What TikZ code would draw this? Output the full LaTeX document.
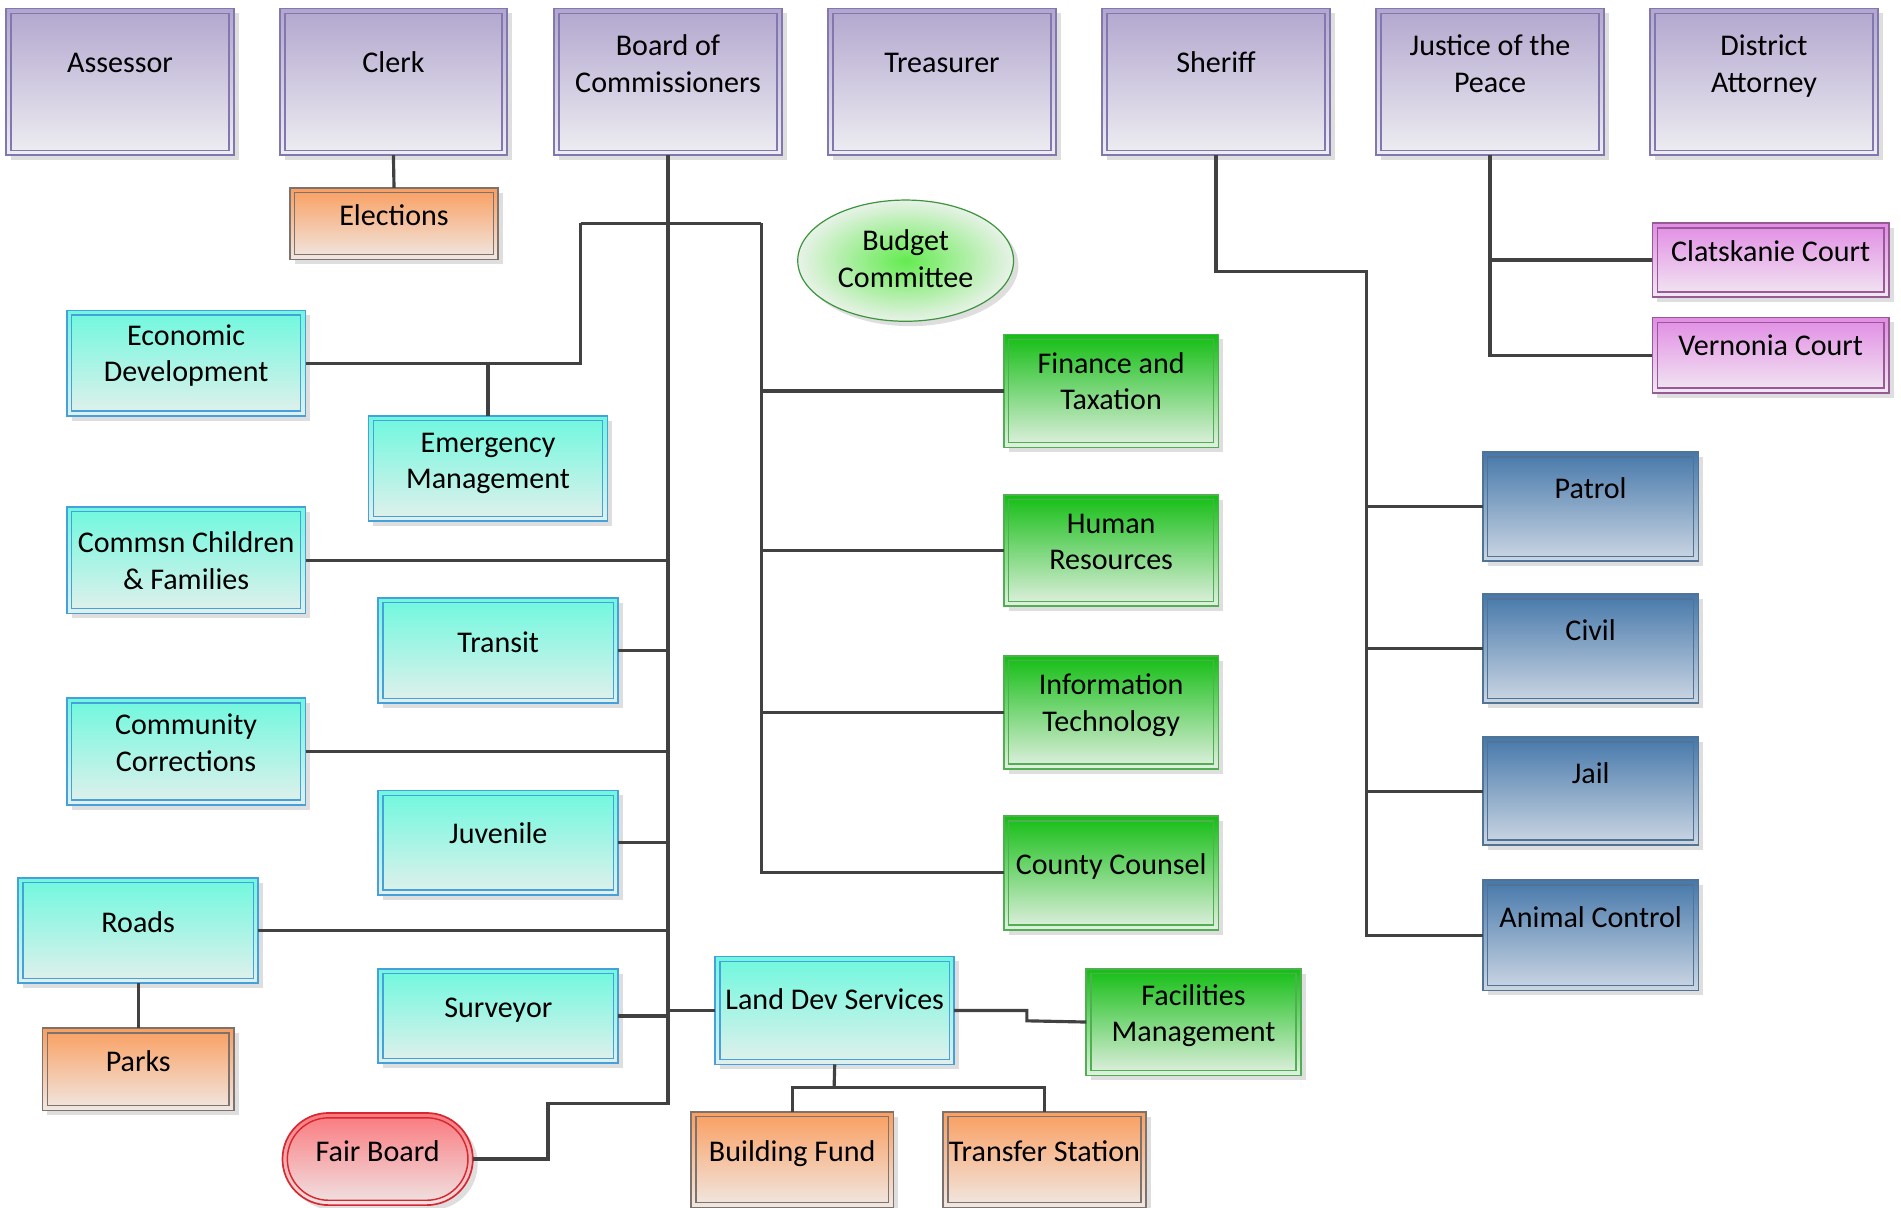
\documentclass[tikz,border=0pt]{standalone}
\usepackage{fontspec}
\setmainfont{Carlito}
\usetikzlibrary{shadows,calc,shapes.geometric}
\definecolor{lncol}{RGB}{65,65,65}
\definecolor{pbord}{RGB}{130,120,175}\definecolor{ptop}{RGB}{178,166,206}\definecolor{pbot}{RGB}{238,238,242}
\definecolor{obord}{RGB}{125,115,110}\definecolor{otop}{RGB}{250,158,95}\definecolor{obot}{RGB}{240,232,228}
\definecolor{cbord}{RGB}{70,160,220}\definecolor{ctop}{RGB}{110,248,222}\definecolor{cbot}{RGB}{226,240,236}
\definecolor{gbord}{RGB}{80,175,80}\definecolor{gtop}{RGB}{20,190,20}\definecolor{gbot}{RGB}{226,240,226}
\definecolor{bbord}{RGB}{80,115,150}\definecolor{btop}{RGB}{70,120,170}\definecolor{bbot}{RGB}{205,215,228}
\definecolor{mbord}{RGB}{150,90,150}\definecolor{mtop}{RGB}{225,140,228}\definecolor{mbot}{RGB}{242,232,242}
\definecolor{rbord}{RGB}{215,40,50}\definecolor{rtop}{RGB}{250,120,125}\definecolor{rbot}{RGB}{240,228,228}
\definecolor{ebord}{RGB}{60,150,60}\definecolor{ein}{RGB}{100,235,80}\definecolor{eout}{RGB}{232,242,232}
\tikzset{
 conn/.style={draw=lncol, line width=2.6pt},
 base/.style={rectangle, inner sep=0pt, outer sep=0pt, line width=1.4pt,
   drop shadow={shadow xshift=4pt, shadow yshift=-4pt, fill=black!13, opacity=1}},
 dblline/.style={path picture={\draw[#1, line width=1.2pt] ([shift={(4pt,-4pt)}]path picture bounding box.north west) rectangle ([shift={(-4pt,4pt)}]path picture bounding box.south east);}},
 purp/.style={base, draw=pbord, top color=ptop, bottom color=pbot, dblline=pbord},
 oran/.style={base, draw=obord, top color=otop, bottom color=obot, dblline=obord},
 cyan/.style={base, draw=cbord, top color=ctop, bottom color=cbot, dblline=cbord},
 gren/.style={base, draw=gbord, top color=gtop, bottom color=gbot, dblline=gbord},
 blu/.style={base, draw=bbord, top color=btop, bottom color=bbot, dblline=bbord},
 mag/.style={base, draw=mbord, top color=mtop, bottom color=mbot, dblline=mbord},
 fairst/.style={base, rounded corners=38pt, draw=rbord, top color=rtop, bottom color=rbot,
   path picture={\draw[rbord, line width=1.2pt, rounded corners=34pt] ([shift={(4pt,-4pt)}]path picture bounding box.north west) rectangle ([shift={(-4pt,4pt)}]path picture bounding box.south east);}},
 lbl/.style={align=center, font=\fontsize{24.8}{30}\selectfont, inner sep=0pt, anchor=base, text=black},
}
% #8 = visual centre of the LAST text line
\newcommand\obox[8]{%
 \node[#2, minimum width={(#5-#3)*1pt}, minimum height={(#6-#4)*1pt}] (#1) at ({(#3+#5)/2},{(#4+#6)/2}) {};
 \node[lbl] (#1-t) at ({(#3+#5)/2},{#8+8}) {#7};}
\begin{document}
\begin{tikzpicture}[x=1pt,y=-1pt]
\useasboundingbox (0,0) rectangle (1568,996);
\fill[white] (0,0) rectangle (1568,996);
% top row
\obox{assessor}{purp}{5}{7}{193}{128}{Assessor}{52}
\obox{clerk}{purp}{231}{7}{418}{128}{Clerk}{52}
\obox{board}{purp}{457}{7}{645}{128}{Board of\\Commissioners}{68}
\obox{treas}{purp}{683}{7}{871}{128}{Treasurer}{52}
\obox{sheriff}{purp}{909}{7}{1097}{128}{Sheriff}{52}
\obox{justice}{purp}{1135}{7}{1323}{128}{Justice of the\\Peace}{68}
\obox{da}{purp}{1361}{7}{1549}{128}{District\\Attorney}{68}
% clerk
\obox{elect}{oran}{239}{155}{411}{214}{Elections}{178}
% left column
\obox{econ}{cyan}{55}{256}{252}{343}{Economic\\Development}{307}
\obox{emerg}{cyan}{304}{343}{501}{430}{Emergency\\Management}{395}
\obox{ccf}{cyan}{55}{418}{252}{506}{Commsn Children\\\& Families}{478}
\obox{transit}{cyan}{312}{493}{510}{580}{Transit}{530}
\obox{corr}{cyan}{55}{576}{252}{664}{Community\\Corrections}{628}
\obox{juv}{cyan}{312}{652}{510}{738}{Juvenile}{688}
\obox{roads}{cyan}{15}{724}{213}{811}{Roads}{761}
\obox{parks}{oran}{35}{848}{193}{916}{Parks}{876}
\obox{surv}{cyan}{312}{799}{510}{877}{Surveyor}{831}
\obox{fair}{fairst}{233}{918}{390}{994}{Fair Board}{950}
% centre column
\node[base, ellipse, draw=ebord, line width=1pt, inner color=ein, outer color=eout, minimum width=178pt, minimum height=100pt] (bud) at (747,215) {};
\node[lbl] (bud-t) at (747,{229+8}) {Budget\\Committee};
\obox{fin}{gren}{828}{276}{1005}{369}{Finance and\\Taxation}{330}
\obox{hr}{gren}{828}{408}{1005}{500}{Human\\Resources}{462}
\obox{it}{gren}{828}{541}{1005}{634}{Information\\Technology}{595}
\obox{cc}{gren}{828}{673}{1005}{767}{County Counsel}{713}
\obox{lds}{cyan}{590}{789}{787}{878}{Land Dev Services}{825}
\obox{fac}{gren}{896}{799}{1073}{887}{Facilities\\Management}{851}
\obox{bf}{oran}{570}{917}{737}{996}{Building Fund}{950}
\obox{ts}{oran}{778}{917}{945}{996}{Transfer Station}{950}
% sheriff
\obox{patrol}{blu}{1223}{373}{1401}{463}{Patrol}{403}
\obox{civil}{blu}{1223}{490}{1401}{580}{Civil}{520}
\obox{jail}{blu}{1223}{608}{1401}{697}{Jail}{638}
\obox{ac}{blu}{1223}{726}{1401}{817}{Animal Control}{757}
% justice
\obox{clat}{mag}{1363}{184}{1558}{245}{Clatskanie Court}{208}
\obox{vern}{mag}{1363}{262}{1558}{324}{Vernonia Court}{285}
% coordinates
\coordinate (b1) at (479,184);
\coordinate (b2) at (628,184);
\coordinate (fb1) at (551,910);
\coordinate (fb2) at (452,910);
\coordinate (fm) at (847,842);
\coordinate (ld) at (688,897);
\coordinate (s1) at (1127,224);
% connectors
\draw[conn] (clerk.south) -- (elect.north);
\draw[conn] (board.south) -- (fb1) -- (fb2) |- (fair.east);
\draw[conn] (b1) -- (b2);
\draw[conn] (b1) |- (econ.east);
\draw[conn] (emerg.north) -- (emerg.north |- econ.east);
\draw[conn] (b2) |- (cc.west);
\draw[conn] (b2 |- fin.west) -- (fin.west);
\draw[conn] (b2 |- hr.west) -- (hr.west);
\draw[conn] (b2 |- it.west) -- (it.west);
\draw[conn] (ccf.east) -- (ccf.east -| board.south);
\draw[conn] (transit.east) -- (transit.east -| board.south);
\draw[conn] (corr.east) -- (corr.east -| board.south);
\draw[conn] (juv.east) -- (juv.east -| board.south);
\draw[conn] (roads.east) -- (roads.east -| board.south);
\draw[conn] (surv.east) -- (surv.east -| board.south);
\draw[conn] (lds.west) -- (lds.west -| board.south);
\draw[conn] (roads.south) -- (parks.north);
\draw[conn] (lds.east) -| (fm) -- (fac.west);
\draw[conn] (lds.south) -- (ld);
\draw[conn] (bf.north) |- (ld) -| (ts.north);
\draw[conn] (sheriff.south) |- (s1) |- (ac.west);
\draw[conn] (s1 |- patrol.west) -- (patrol.west);
\draw[conn] (s1 |- civil.west) -- (civil.west);
\draw[conn] (s1 |- jail.west) -- (jail.west);
\draw[conn] (justice.south) |- (vern.west);
\draw[conn] (justice.south |- clat.west) -- (clat.west);
\end{tikzpicture}
\end{document}
